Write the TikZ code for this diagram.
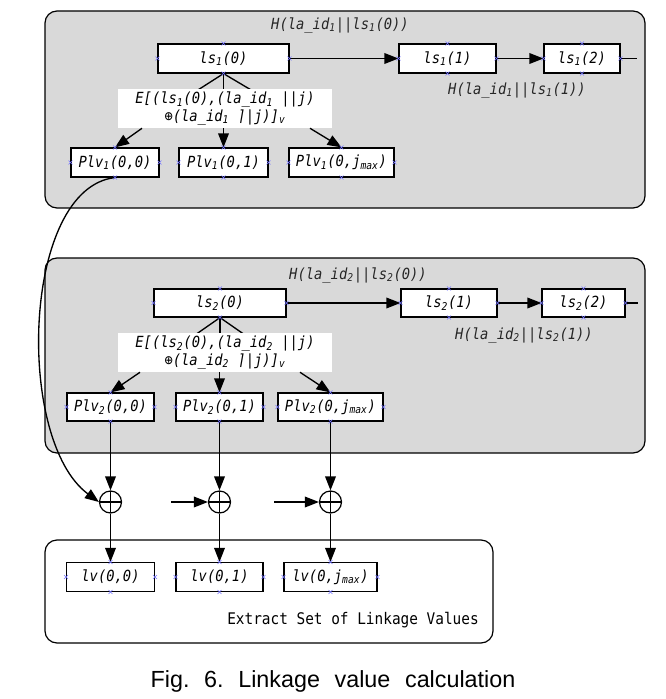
\documentclass[tikz,border=0pt]{standalone}
\usepackage{fontspec}
\newfontfamily\monofont[FakeStretch=0.9]{DejaVu Sans Mono}
\newfontfamily\capfont{Liberation Sans}
\usetikzlibrary{arrows.meta, calc, shapes.misc}
\newcommand{\sbs}[1]{\textsubscript{#1}}
\newcommand{\labelfont}{\monofont\itshape\fontsize{11.5}{13}\selectfont}
\definecolor{panelgray}{HTML}{D9D9D9}

\begin{document}
\begin{tikzpicture}[x=0.75pt, y=-0.75pt,
                    panel/.style={draw, line width=0.9pt, rounded corners=9pt, fill=#1, inner sep=0pt},
                    panel/.default=panelgray,
                    box/.style={draw, line width=0.9pt, fill=white, minimum height=21.75pt, inner sep=0pt, font=\labelfont},
                    ebox/.style={fill=white, inner sep=0pt, minimum width=160pt, minimum height=29.25pt, align=center, font=\labelfont},
                    hlabel/.style={inner sep=0pt, text=black!85, font=\labelfont},
                    oplus/.style={circle, draw, line width=0.9pt, minimum size=16.5pt, inner sep=0pt,
                      path picture={\draw[line width=0.9pt] (path picture bounding box.north) -- (path picture bounding box.south)
                        (path picture bounding box.west) -- (path picture bounding box.east);}},
                    pinmark/.style={cross out, draw=blue!55, line width=0.4pt, minimum size=2.5pt, inner sep=0pt},
                    link/.style={line width=1pt},
                    arr/.style={line width=1pt, -{Triangle[length=10.5pt, width=8pt]}},
                ]
                    \useasboundingbox (0,0) rectangle (665,699);

                    %Panels
                    \node[panel, minimum width=450pt, minimum height=147.75pt](panel1) at (345,109.5) {};
                    \node[panel, minimum width=450pt, minimum height=146.25pt](panel2) at (345,355.5) {};
                    \node[panel=white, minimum width=336pt, minimum height=77.25pt](panel3) at (269,591.5) {};

                    %Nodes, first chain
                    \node[box, minimum width=98.25pt](ls10) at (223.5,58.5) {ls\sbs{1}(0)};
                    \node[box, minimum width=72.75pt](ls11) at (447.5,58.5) {ls\sbs{1}(1)};
                    \node[box, minimum width=57pt](ls12) at (582,58.5) {ls\sbs{1}(2)};
                    \coordinate (end1) at (637,58.5);
                    \node[hlabel](h10) at (340,25) {H(la\_id\sbs{1}||ls\sbs{1}(0))};
                    \node[hlabel](h11) at (517,90) {H(la\_id\sbs{1}||ls\sbs{1}(1))};
                    \node[box, minimum width=66pt](plv100) at (115,162.5) {Plv\sbs{1}(0,0)};
                    \node[box, minimum width=66.75pt](plv101) at (223.5,162.5) {Plv\sbs{1}(0,1)};
                    \node[box, minimum width=78.75pt](plv10j) at (341.5,162.5) {Plv\sbs{1}(0,j\sbs{max})};

                    %Nodes, second chain
                    \node[box, minimum width=99pt, minimum height=21pt](ls20) at (220,303) {ls\sbs{2}(0)};
                    \node[box, minimum width=72pt, minimum height=21pt](ls21) at (449,303) {ls\sbs{2}(1)};
                    \node[box, minimum width=62.25pt, minimum height=21pt](ls22) at (583.5,303) {ls\sbs{2}(2)};
                    \coordinate (end2) at (638,303);
                    \node[hlabel](h20) at (358,275) {H(la\_id\sbs{2}||ls\sbs{2}(0))};
                    \node[hlabel](h21) at (524,335) {H(la\_id\sbs{2}||ls\sbs{2}(1))};
                    \node[box, minimum width=65.25pt, minimum height=21pt](plv200) at (110.5,407) {Plv\sbs{2}(0,0)};
                    \node[box, minimum width=65.25pt, minimum height=21pt](plv201) at (219.5,407) {Plv\sbs{2}(0,1)};
                    \node[box, minimum width=78.75pt, minimum height=21pt](plv20j) at (330.5,407) {Plv\sbs{2}(0,j\sbs{max})};

                    %XOR and linkage values
                    \node[oplus](op1) at (110.5,502) {};
                    \node[oplus](op2) at (219.5,502) {};
                    \node[oplus](op3) at (330.5,502) {};
                    \coordinate (in2) at (171,502);
                    \coordinate (in3) at (274,502);
                    \node[box, minimum width=66pt](lv0) at (110.5,577) {lv(0,0)};
                    \node[box, minimum width=65.25pt](lv1) at (219.5,577) {lv(0,1)};
                    \node[box, minimum width=69.75pt](lvj) at (330.5,577) {lv(0,j\sbs{max})};
                    \node[font=\monofont\fontsize{12}{14}\selectfont](extract) at (353,620) {Extract Set of Linkage Values};

                    %Lines
                    \draw[arr] (ls10.east) -- (ls11.west);
                    \draw[arr] (ls11.east) -- (ls12.west);
                    \draw[link] (ls12.east) -- (end1);
                    \draw[link] (ls10.south) -- ++(-25,16);
                    \draw[link] (ls10.south) -- ++(0,16);
                    \draw[link] (ls10.south) -- ++(27,16);
                    \node[ebox](e1) at (225,108.5) {E[(ls\sbs{1}(0),(la\_id\sbs{1} ||j)\\⊕(la\_id\sbs{1} ⌉|j)]\sbs{v}};
                    \draw[arr] ($(e1.south)+(-83,0)$) -- (plv100.north);
                    \draw[arr] (e1.south -| plv101.north) -- (plv101.north);
                    \draw[arr] ($(e1.south)+(85,0)$) -- (plv10j.north);

                    \draw[arr] (ls20.east) -- (ls21.west);
                    \draw[arr] (ls21.east) -- (ls22.west);
                    \draw[link] (ls22.east) -- (end2);
                    \draw[link] (ls20.south) -- ++(-23,16);
                    \draw[link] (ls20.south) -- ++(0,16);
                    \draw[link] (ls20.south) -- ++(23,16);
                    \node[ebox](e2) at (225,352.5) {E[(ls\sbs{2}(0),(la\_id\sbs{2} ||j)\\⊕(la\_id\sbs{2} ⌉|j)]\sbs{v}};
                    \draw[arr] ($(e2.south)+(-85,0)$) -- (plv200.north);
                    \draw[arr] (e2.south -| plv201.north) -- (plv201.north);
                    \draw[arr] ($(e2.south)+(75,0)$) -- (plv20j.north);

                    \draw[arr] (plv100.south) .. controls (22,188) and (15,440) .. (op1.west);
                    \draw[arr] (plv200.south) -- (op1.north);
                    \draw[arr] (plv201.south) -- (op2.north);
                    \draw[arr] (plv20j.south) -- (op3.north);
                    \draw[arr] (in2) -- (op2.west);
                    \draw[arr] (in3) -- (op3.west);
                    \draw[arr] (op1.south) -- (lv0.north);
                    \draw[arr] (op2.south) -- (lv1.north);
                    \draw[arr] (op3.south) -- (lvj.north);

                    %Connection points
                    \foreach \n in {ls10,ls11,ls12,plv100,plv101,plv10j,ls20,ls21,ls22,plv200,plv201,plv20j,lv0,lv1,lvj}
                      \foreach \a in {north,south,east,west}
                        \node[pinmark] at (\n.\a) {};

                    %Caption
                    \node[font=\capfont\fontsize{17.5}{20}\selectfont](caption) at (333,681) {\spaceskip=11pt\relax\xspaceskip=11pt\relax Fig. 6. Linkage value calculation};
                \end{tikzpicture}
\end{document}
